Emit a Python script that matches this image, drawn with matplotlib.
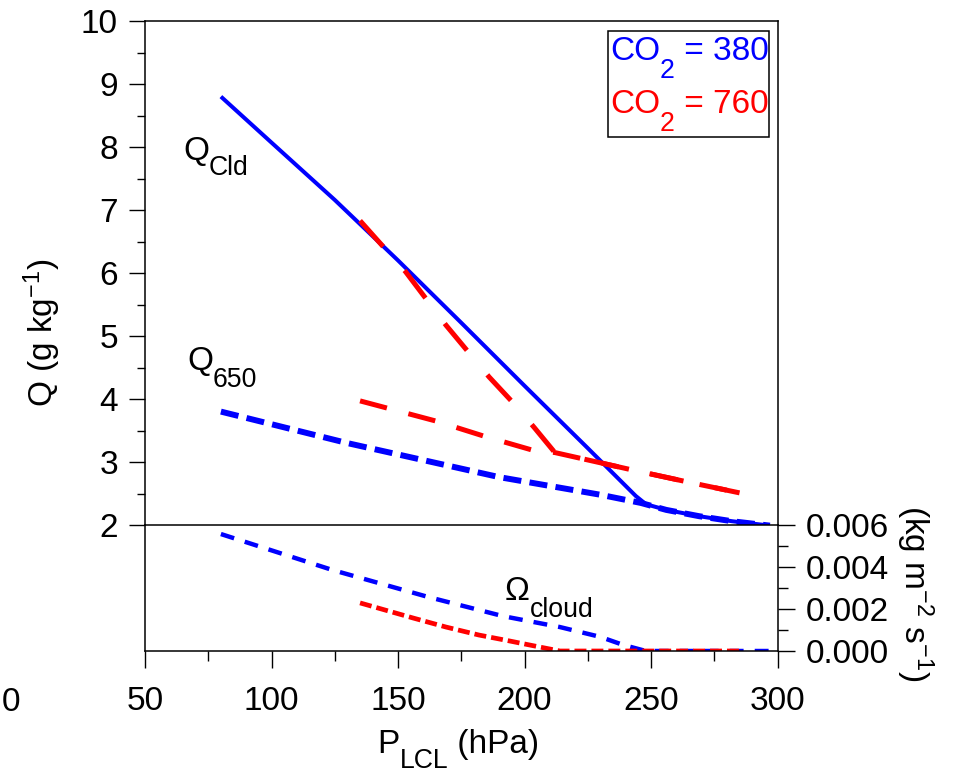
import matplotlib
matplotlib.use('Agg')
import matplotlib.pyplot as plt
from matplotlib.patches import Rectangle
from matplotlib.ticker import MultipleLocator, FormatStrFormatter
from matplotlib.transforms import IdentityTransform

plt.rcParams['font.family'] = ['Liberation Sans', 'DejaVu Sans']
plt.rcParams['mathtext.fontset'] = 'custom'
plt.rcParams['mathtext.rm'] = 'Liberation Sans'
plt.rcParams['mathtext.it'] = 'Liberation Sans'
plt.rcParams['mathtext.default'] = 'regular'
plt.rcParams['lines.scale_dashes'] = False

BLUE = '#0000ff'
RED = '#ff0000'
FS = 24

# cloud water content, CO2 = 380
p_cld_380 = [80, 100, 125, 150, 175, 200, 225, 240, 244, 248, 256, 269, 282, 297]
q_cld_380 = [8.80, 8.07, 7.16, 6.20, 5.21, 4.21, 3.22, 2.62, 2.46, 2.33, 2.24, 2.14, 2.06, 1.99]

# water at 650 hPa, CO2 = 380
p_650_380 = [80, 130, 190, 230, 246, 256, 269, 282, 297]
q_650_380 = [3.80, 3.30, 2.76, 2.48, 2.35, 2.24, 2.14, 2.06, 1.99]

# cloud water content, CO2 = 760
p_cld_760 = [135, 153, 169, 186, 195.5, 204, 212, 243, 266, 285]
q_cld_760 = [6.83, 6.02, 5.17, 4.35, 3.94, 3.54, 3.15, 2.87, 2.67, 2.51]

# water at 650 hPa, CO2 = 760
p_650_760 = [135, 165, 184, 203, 212, 243, 266, 285]
q_650_760 = [3.97, 3.65, 3.41, 3.19, 3.15, 2.87, 2.67, 2.51]

# cloud mass flux
p_om_380 = [80, 124, 162, 191.5, 214, 230, 239, 248, 297]
om_380 = [0.00557, 0.00386, 0.00257, 0.00166, 0.00114, 0.00067, 0.00029, 0.0, 0.0]
p_om_760 = [135, 156, 169, 182, 194, 206, 214, 285]
om_760 = [0.00229, 0.00157, 0.00114, 0.00076, 0.00048, 0.00019, 0.0, 0.0]

fig = plt.figure(figsize=(9.58, 7.75), dpi=100)
W, H = 958., 775.
x0, x1 = 145., 777.5
ytop, ymid, ybot = 21., 525., 651.
ax = fig.add_axes([x0/W, 1-ymid/H, (x1-x0)/W, (ymid-ytop)/H])
ax2 = fig.add_axes([x0/W, 1-ybot/H, (x1-x0)/W, (ybot-ymid)/H])
renderer = fig.canvas.get_renderer()


def runs_text(x, y, runs, transform, color='black'):
    # lay out pieces of text one after another; each run is (text, scale, drop in px)
    bx, by = transform.transform((x, y))
    for s, scale, drop in runs:
        t = fig.text(bx, by - drop, s, transform=IdentityTransform(),
                     fontsize=FS*scale, color=color, va='baseline')
        bx = t.get_window_extent(renderer).x1


for a in (ax, ax2):
    a.set_xlim(50, 300)
    a.patch.set_alpha(0)
    for s in a.spines.values():
        s.set_linewidth(1.1)

# upper panel
ax.set_ylim(2, 10)
ax.plot(p_cld_380, q_cld_380, color=BLUE, lw=2.9, solid_capstyle='butt')
ax.plot(p_650_380, q_650_380, color=BLUE, lw=4.3, dashes=(13, 6))
ax.plot(p_650_760, q_650_760, color=RED, lw=3.6, dashes=(20, 16))
ax.plot(p_cld_760, q_cld_760, color=RED, lw=3.6, dashes=(25, 23))
ax.yaxis.set_major_locator(MultipleLocator(1))
ax.yaxis.set_minor_locator(MultipleLocator(0.5))
ax.tick_params(axis='y', which='major', direction='out', length=11.5, width=1.0,
               labelsize=FS, pad=8)
ax.tick_params(axis='y', which='minor', direction='out', length=5.8, width=1.0)
ax.tick_params(axis='x', which='both', bottom=False, labelbottom=False)
ax.set_ylabel('Q (g kg$^{-1}$)', fontsize=FS, va='center')
ax.yaxis.set_label_coords(-0.163, 0.381)

runs_text(65, 7.79, [('Q', 1, 0), ('Cld', 0.8, 15)], ax.transData)
runs_text(66.6, 4.46, [('Q', 1, 0), ('650', 0.8, 17)], ax.transData)

ax.add_patch(Rectangle((0.732, 0.770), 0.254, 0.210, transform=ax.transAxes,
                       fill=False, lw=1.1, ec='black'))
runs_text(0.735, 0.9226, [('CO', 1, 0), ('2', 0.8, 18), (' = 380', 1, 0)],
          ax.transAxes, BLUE)
runs_text(0.735, 0.8175, [('CO', 1, 0), ('2', 0.8, 18), (' = 760', 1, 0)],
          ax.transAxes, RED)

# lower panel
ax2.set_ylim(0, 0.006)
ax2.plot(p_om_380, om_380, color=BLUE, lw=3.2, dashes=(10, 8))
ax2.plot(p_om_760, om_760, color=RED, lw=3.4, dashes=(8.6, 3.6))
ax2.spines['top'].set_visible(False)
ax2.yaxis.tick_right()
ax2.yaxis.set_label_position('right')
ax2.yaxis.set_major_locator(MultipleLocator(0.002))
ax2.yaxis.set_minor_locator(MultipleLocator(0.001))
ax2.yaxis.set_major_formatter(FormatStrFormatter('%.3f'))
ax2.tick_params(axis='y', which='major', direction='out', length=12, width=1.0,
                labelsize=FS, pad=8)
ax2.tick_params(axis='y', which='minor', direction='out', length=7, width=1.0)
ax2.xaxis.set_major_locator(MultipleLocator(50))
ax2.xaxis.set_minor_locator(MultipleLocator(25))
ax2.tick_params(axis='x', which='major', direction='out', length=12, width=1.0,
                labelsize=FS, pad=13)
ax2.tick_params(axis='x', which='minor', direction='out', length=7, width=1.0)
ax2.set_ylabel('(kg m$^{-2}$ s$^{-1}$)', fontsize=FS, rotation=270, va='center')
ax2.yaxis.set_label_coords(1.2174, 0.46)

# x axis title with a lowered subscript
runs_text(0.5, -0.81, [('P', 1, 0), ('LCL', 0.8, 15), (' (hPa)', 1, 0)],
          ax2.transAxes)
for t in fig.texts[-3:]:
    t.set_x(t.get_position()[0] - 84)

runs_text(192.3, 0.00243, [('\u03a9', 1, 0), ('cloud', 0.8, 17)], ax2.transData)

fig.text(20/W, 1-711/H, '0', fontsize=FS, ha='right', va='baseline')

fig.savefig('out.png', dpi=100)
